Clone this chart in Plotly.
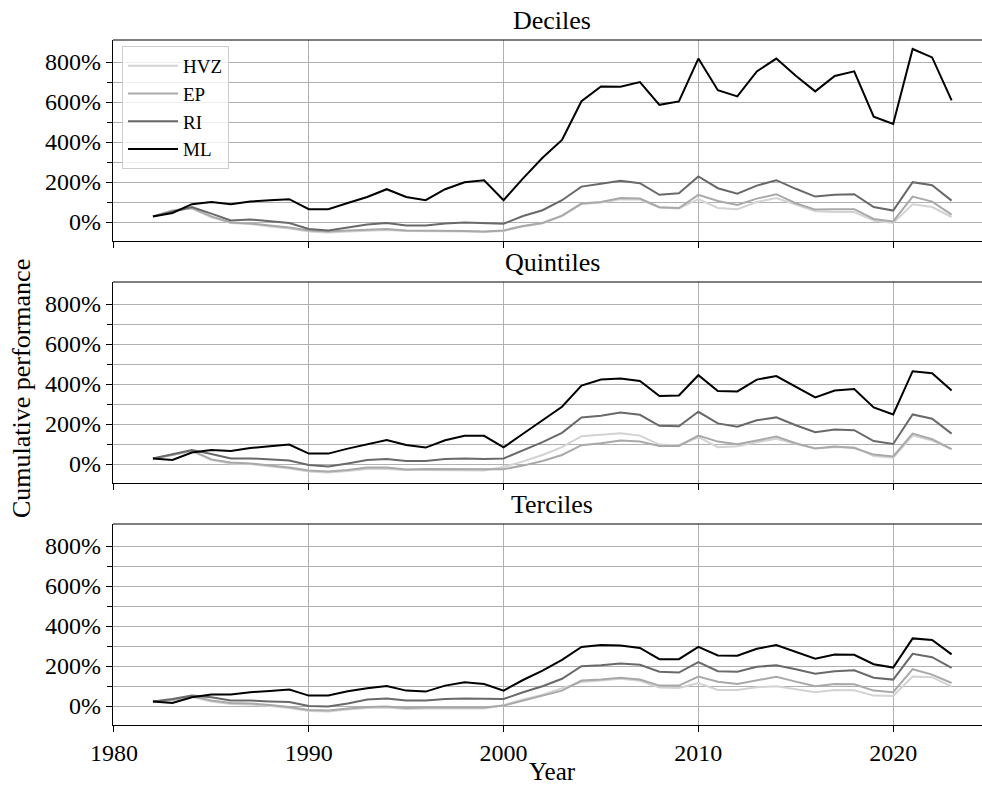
import plotly.graph_objects as go
from plotly.subplots import make_subplots

# Cumulative performance (%) of four strategies, 1982-2023
years = list(range(1982, 2024))

series_names = ["HVZ", "EP", "RI", "ML"]
series_colors = ["#d3d3d3", "#a9a9a9", "#696969", "#000000"]

# Deciles
dec_hvz = [28, 55, 68, 24, -5, -10, -22, -32, -47, -52, -47, -42, -40, -45, -45, -47, -47, -50,
           -45, -22, -7, 30, 90, 97, 114, 112, 72, 67, 114, 70, 64, 100, 120, 87, 54, 50, 50, 7, -5, 89, 75, 25]
dec_ep = [28, 57, 70, 28, -2, -7, -18, -28, -42, -47, -42, -37, -35, -42, -42, -43, -45, -47,
          -42, -20, -5, 32, 92, 100, 120, 117, 74, 70, 136, 105, 85, 117, 139, 94, 62, 64, 64, 15, 3, 127, 102, 37]
dec_ri = [28, 50, 75, 42, 8, 13, 5, -5, -35, -42, -28, -13, -5, -17, -17, -7, -2, -7,
          -9, 30, 59, 109, 177, 191, 206, 194, 136, 144, 228, 169, 142, 182, 209, 166, 127, 136, 139, 75, 57, 199, 184, 107]
dec_ml = [28, 45, 89, 100, 89, 102, 109, 114, 64, 64, 95, 125, 164, 125, 109, 164, 199, 209,
          109, 218, 321, 410, 604, 678, 676, 700, 586, 603, 817, 659, 628, 753, 817, 731, 653, 730, 753, 527, 490, 865, 823, 608]

# Quintiles
qui_hvz = [28, 48, 65, 20, 3, 0, -12, -22, -38, -42, -35, -25, -25, -30, -30, -30, -32, -33,
           -15, 13, 45, 84, 139, 146, 154, 142, 97, 94, 134, 84, 89, 109, 126, 100, 79, 84, 84, 40, 32, 142, 117, 74]
qui_ep = [28, 45, 67, 23, 7, 3, -8, -18, -33, -38, -30, -18, -18, -27, -25, -25, -27, -28,
          -26, -8, 15, 45, 94, 104, 117, 112, 90, 90, 142, 112, 99, 117, 137, 104, 77, 87, 80, 47, 38, 152, 124, 74]
qui_ri = [28, 50, 70, 50, 28, 28, 22, 17, -5, -12, 3, 20, 25, 15, 15, 25, 27, 25,
          28, 67, 109, 156, 233, 241, 258, 246, 191, 189, 261, 203, 186, 219, 233, 194, 159, 172, 169, 115, 100, 248, 226, 152]
qui_ml = [28, 20, 57, 70, 65, 80, 89, 97, 52, 52, 77, 100, 120, 95, 82, 119, 141, 141,
          83, 151, 219, 286, 392, 422, 427, 415, 340, 343, 444, 365, 363, 422, 440, 385, 333, 367, 375, 283, 248, 464, 454, 368]

# Terciles
ter_hvz = [23, 28, 46, 22, 10, 8, 0, -10, -25, -27, -18, -10, -8, -15, -13, -12, -12, -13,
           4, 33, 57, 89, 120, 127, 136, 126, 92, 90, 115, 80, 80, 94, 99, 84, 69, 80, 79, 52, 50, 147, 144, 97]
ter_ep = [23, 30, 49, 27, 15, 13, 5, -5, -20, -22, -13, -5, -3, -10, -8, -7, -7, -8,
          2, 27, 49, 77, 127, 132, 141, 132, 102, 102, 147, 121, 110, 129, 146, 122, 99, 110, 109, 77, 69, 184, 157, 115]
ter_ri = [23, 35, 52, 44, 27, 27, 23, 20, 0, -2, 13, 32, 37, 27, 28, 35, 38, 35,
          35, 69, 99, 136, 199, 204, 213, 206, 171, 167, 219, 174, 171, 196, 204, 184, 161, 174, 179, 141, 132, 261, 244, 191]
ter_ml = [23, 15, 44, 57, 57, 69, 75, 82, 52, 52, 74, 89, 100, 77, 72, 102, 119, 110,
          77, 130, 177, 231, 295, 305, 303, 290, 234, 234, 296, 253, 251, 286, 305, 271, 236, 258, 256, 209, 192, 338, 330, 258]

panel_titles = ["Deciles", "Quintiles", "Terciles"]
panels = [
    [dec_hvz, dec_ep, dec_ri, dec_ml],
    [qui_hvz, qui_ep, qui_ri, qui_ml],
    [ter_hvz, ter_ep, ter_ri, ter_ml],
]

major_y = [0, 200, 400, 600, 800]
minor_y = [100, 300, 500, 700]
x_ticks = [1980, 1990, 2000, 2010, 2020]

FONT = "Liberation Serif"
W, H = 982, 789
ML_PX = 113  # left margin in pixels


def px_x(px):
    """pixel column -> paper x (paper spans the plotting width)"""
    return (px - ML_PX) / (W - ML_PX)


def px_y(px):
    return 1 - px / H


fig = make_subplots(rows=3, cols=1, shared_xaxes=True)

for r, panel in enumerate(panels, start=1):
    for name, color, vals in zip(series_names, series_colors, panel):
        fig.add_trace(
            go.Scatter(
                x=years, y=vals, mode="lines", name=name,
                line=dict(color=color, width=2),
                legendgroup=name, showlegend=(r == 1),
            ),
            row=r, col=1,
        )

# panel pixel extents (top, bottom)
panel_px = [(40, 241), (282, 483), (524, 725)]
for r, (top, bot) in enumerate(panel_px, start=1):
    sfx = "" if r == 1 else str(r)
    fig.layout["yaxis" + sfx].domain = [px_y(bot), px_y(top)]
    fig.update_xaxes(
        row=r, col=1,
        range=[1979.95, 2024.56],
        tickmode="array", tickvals=x_ticks,
        ticks="outside", ticklen=6, tickcolor="black", tickwidth=1,
        showgrid=True, gridcolor="#b0b0b0", gridwidth=1,
        showline=True, linecolor="black", linewidth=1.2,
        zeroline=False, showticklabels=(r == 3),
        tickfont=dict(family=FONT, size=24, color="black"),
    )
    fig.update_yaxes(
        row=r, col=1,
        range=[-95, 910],
        tickmode="array", tickvals=major_y,
        ticktext=[f"{v}%" for v in major_y],
        ticks="outside", ticklen=6, tickcolor="black", tickwidth=1,
        showgrid=True, gridcolor="#b0b0b0", gridwidth=1,
        minor=dict(tickmode="array", tickvals=minor_y, ticks="outside", ticklen=5,
                   tickcolor="black", showgrid=True, gridcolor="#b0b0b0", gridwidth=1),
        showline=True, linecolor="black", linewidth=1.2,
        zeroline=False,
        tickfont=dict(family=FONT, size=24, color="black"),
    )
    # top spine
    fig.add_shape(type="line", xref=f"x{sfx} domain", yref=f"y{sfx} domain",
                  x0=0, x1=1, y0=1, y1=1, line=dict(color="black", width=1.2))
    # panel title
    fig.add_annotation(text=panel_titles[r - 1], xref="paper", yref="paper",
                       x=px_x(552), y=px_y(top - 3), xanchor="center", yanchor="bottom",
                       showarrow=False, font=dict(family=FONT, size=26, color="black"))

fig.add_annotation(text="Cumulative performance", xref="paper", yref="paper",
                   x=px_x(22), y=px_y(389), xanchor="center", yanchor="middle",
                   textangle=-90, showarrow=False,
                   font=dict(family=FONT, size=26, color="black"))
fig.add_annotation(text="Year", xref="paper", yref="paper",
                   x=px_x(552), y=px_y(771), xanchor="center", yanchor="middle",
                   showarrow=False, font=dict(family=FONT, size=25, color="black"))

fig.update_layout(
    width=W, height=H,
    margin=dict(l=ML_PX, r=0, t=0, b=0, autoexpand=False),
    plot_bgcolor="white", paper_bgcolor="white",
    font=dict(family=FONT, color="black"),
    legend=dict(
        x=px_x(122), y=px_y(46), xanchor="left", yanchor="top",
        bgcolor="rgba(255,255,255,0.8)", bordercolor="#cccccc", borderwidth=1,
        font=dict(family=FONT, size=19, color="black"),
        tracegroupgap=0, itemwidth=50,
    ),
    showlegend=True,
)

fig.write_html("out.html")
